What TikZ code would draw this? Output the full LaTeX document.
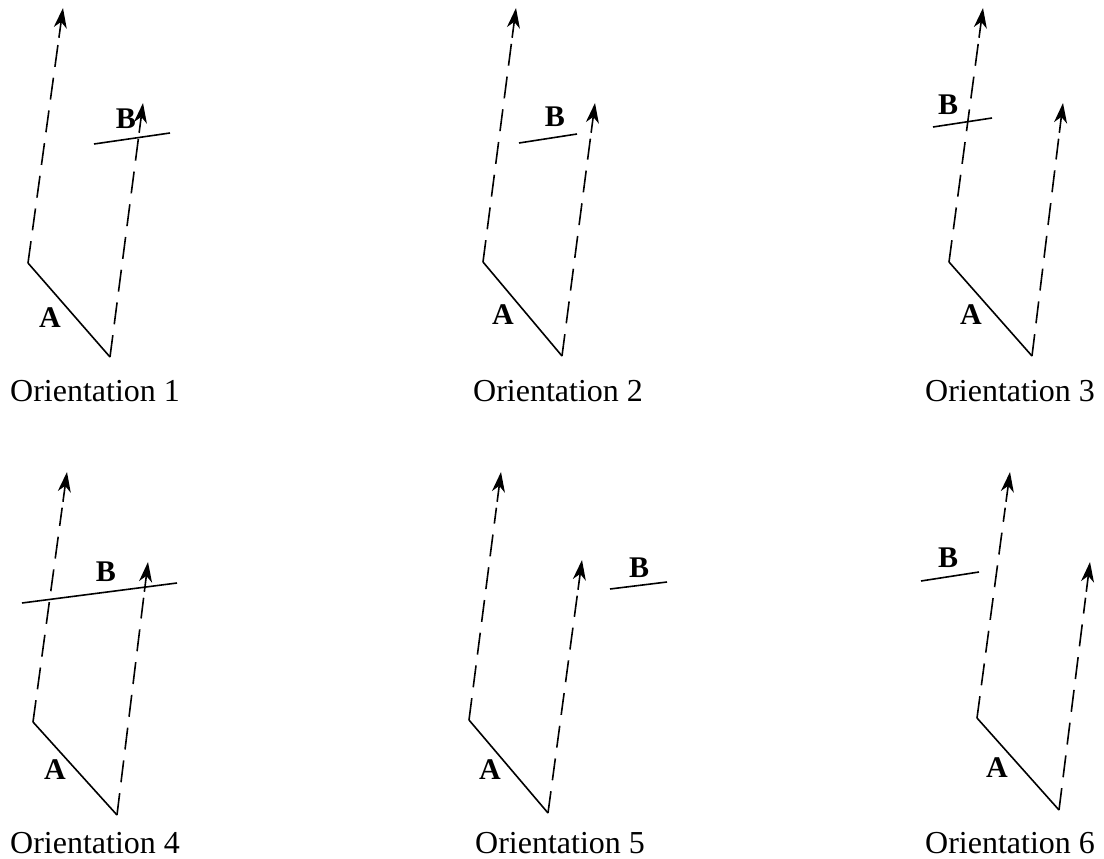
\documentclass[tikz,border=0pt]{standalone}
\usepackage{fontspec}
\setmainfont{Liberation Serif}
\usetikzlibrary{arrows.meta,calc}
\newcommand\orientpanel[9]{%
  \coordinate (#1lb) at (#2);
  \coordinate (#1v) at (#3);
  \coordinate (#1lt) at (#4);
  \coordinate (#1rt) at (#5);
  \coordinate (#1b1) at (#6);
  \coordinate (#1b2) at (#7);
  \draw[sline] (#1lb) -- (#1v);
  \draw[dline] (#1lb) -- ($(#1lt)!36pt!(#1lb)$);
  \draw[arrowline] ($(#1lt)!30pt!(#1lb)$) -- (#1lt);
  \draw[dline] (#1v) -- ($(#1rt)!36pt!(#1v)$);
  \draw[arrowline] ($(#1rt)!30pt!(#1v)$) -- (#1rt);
  \draw[bline] (#1b1) -- (#1b2);
  \node[lab] (#1A) at (#8) {A};
  \node[lab] (#1B) at (#9) {B};
}
\begin{document}
\begin{tikzpicture}[x=1pt,y=-1pt,
  dline/.style={line width=1.6pt, dash pattern=on 22pt off 11pt},
  sline/.style={line width=1.6pt},
  bline/.style={line width=1.6pt},
  arrowline/.style={line width=1.6pt,-{Stealth[length=20pt,width=13pt,inset=6pt]}},
  lab/.style={font=\fontsize{30}{34}\selectfont\bfseries, inner sep=0pt},
  capt/.style={font=\fontsize{32}{36}\selectfont, inner sep=0pt, anchor=base west}]
\useasboundingbox (0,0) rectangle (1104,859);

% Orientation 1
\orientpanel{p1}{28,263}{110,357}{63,8}{143,103}{94,144}{170,133}{50,318}{126,119}
\node[capt] (c1) at (10,401) {Orientation 1};

% Orientation 2
\orientpanel{p2}{483,262}{562,356}{516,8}{595,103}{519,143}{577,134}{503,315}{555,117}
\node[capt] (c2) at (473,401) {Orientation 2};

% Orientation 3
\orientpanel{p3}{949,262}{1032,356}{983,8}{1063,103}{933,127}{992,118}{971,315}{948,105}
\node[capt] (c3) at (925,401) {Orientation 3};

% Orientation 4
\orientpanel{p4}{33,722}{117,815}{67,472}{148,562}{22,603}{177,583}{55,770}{106,572}
\node[capt] (c4) at (10,853) {Orientation 4};

% Orientation 5
\orientpanel{p5}{469,720}{548,813}{501,472}{582,560}{610,589}{667,582}{490,770}{639,568}
\node[capt] (c5) at (475,853) {Orientation 5};

% Orientation 6
\orientpanel{p6}{977,718}{1059,810}{1010,472}{1090,562}{921,581}{979,572}{997,768}{948,558}
\node[capt] (c6) at (925,853) {Orientation 6};
\end{tikzpicture}
\end{document}
